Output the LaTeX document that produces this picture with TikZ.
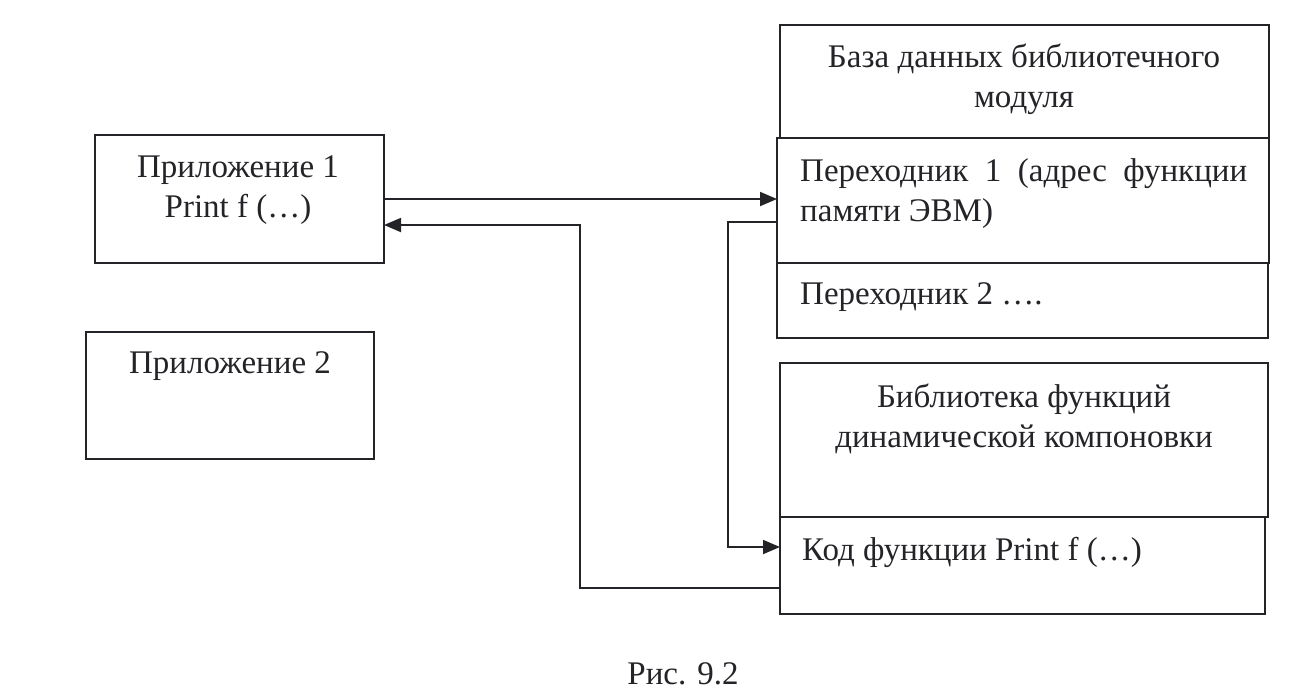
\documentclass[tikz,border=0pt]{standalone}
\usepackage{fontspec}
\setmainfont{Liberation Serif}
\usetikzlibrary{arrows.meta,calc}
\definecolor{ink}{RGB}{35,35,40}
\begin{document}
\begin{tikzpicture}[x=1pt,y=-1pt,
  box/.style={draw=ink,line width=1.8pt,inner sep=0pt,outer sep=0pt},
  txt/.style={inner sep=0pt,text=ink,font=\fontsize{33}{40}\selectfont},
  conn/.style={draw=ink,line width=1.8pt},
  arr/.style={conn,-{Triangle[length=17pt,width=14pt]}}]
\useasboundingbox (0,0) rectangle (1316,694);
% boxes
\node[box,minimum width=289pt,minimum height=128pt] (app1) at (239.5,199) {};
\node[box,minimum width=288pt,minimum height=127pt] (app2) at (230,395.5) {};
\node[box,minimum width=489pt,minimum height=113pt] (db) at (1024.5,81.5) {};
\node[box,minimum width=492pt,minimum height=125pt] (per1) at (1023,200.5) {};
\node[box,minimum width=491pt,minimum height=75pt] (per2) at (1022.5,300.5) {};
\node[box,minimum width=488pt,minimum height=154pt] (lib) at (1024,440) {};
\node[box,minimum width=485pt,minimum height=97pt] (code) at (1022.5,565.5) {};
% texts
\node[txt,align=center] (t1) at (238,190) {Приложение 1\\Print f (…)};
\node[txt] (t2) at (230,366) {Приложение 2};
\node[txt,align=center] (t3) at (1024,79) {База данных библиотечного\\модуля};
\node[txt,anchor=west] (t4a) at (800,174) {\hbox to 447pt{Переходник\hfill 1\hfill (адрес\hfill функции}};
\node[txt,anchor=west] (t4b) at (800,214) {памяти ЭВМ)};
\node[txt,anchor=west] (t5) at (800,297) {Переходник 2 ….};
\node[txt,align=center] (t6) at (1024,419) {Библиотека функций\\динамической компоновки};
\node[txt,anchor=west] (t7) at (802,552) {Код функции Print f (…)};
\node[txt] (cap) at (683,674) {Рис. 9.2};
% connectors
\coordinate (c1) at (580,225);
\coordinate (c2) at (728,547);
\draw[arr] (app1.east) -- (app1.east -| per1.west);
\draw[arr] ([yshift=-22.5pt]code.west) -| (c1) -- (c1 -| app1.east);
\draw[arr] ([yshift=-21.5pt]per1.west) -| (c2) -- (c2 -| code.west);
\end{tikzpicture}
\end{document}
